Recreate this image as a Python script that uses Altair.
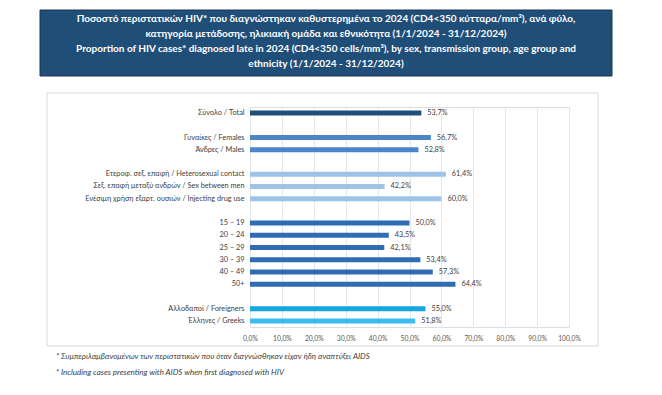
import altair as alt
import pandas as pd

categories = [
    "Σύνολο / Total", " ",
    "Γυναίκες / Females", "Άνδρες / Males", "  ",
    "Ετεροφ. σεξ. επαφή / Heterosexual contact",
    "Σεξ. επαφή μεταξύ ανδρών / Sex between men",
    "Ενέσιμη χρήση εξαρτ. ουσιών / Injecting drug use", "   ",
    "15 – 19", "20 – 24", "25 – 29", "30 – 39", "40 – 49", "50+", "    ",
    "Αλλοδαποί / Foreigners", "Έλληνες / Greeks",
]
values = [53.7, None, 56.7, 52.8, None, 61.4, 42.2, 60.0, None,
          50.0, 43.5, 42.1, 53.4, 57.3, 64.4, None, 55.0, 51.8]
colors = ["#1F4E79", None, "#4A86C8", "#4A86C8", None, "#9DC3E6", "#9DC3E6", "#9DC3E6", None,
          "#2E6DB4", "#2E6DB4", "#2E6DB4", "#2E6DB4", "#2E6DB4", "#2E6DB4", None, "#14A5E3", "#3CBCEE"]

title_lines = [
    "Ποσοστό περιστατικών HIV* που διαγνώστηκαν καθυστερημένα το 2024 (CD4<350 κύτταρα/mm³), ανά φύλο,",
    "κατηγορία μετάδοσης, ηλικιακή ομάδα και εθνικότητα (1/1/2024 - 31/12/2024)",
    "Proportion of HIV cases* diagnosed late in 2024 (CD4<350 cells/mm³), by sex, transmission group, age group and",
    "ethnicity (1/1/2024 - 31/12/2024)",
]
footnotes = [
    "* Συμπεριλαμβανομένων των περιστατικών που όταν διαγνώσθηκαν είχαν ήδη αναπτύξει AIDS",
    "* Including cases presenting with AIDS when first diagnosed with HIV",
]

df = pd.DataFrame({"cat": categories, "val": values, "col": colors})
df = df.dropna()
df["lab"] = df["val"].map(lambda v: f"{v:.1f}".replace(".", ",") + "%")

W, H = 319, 220
FONT = "Lato"

y_enc = alt.Y("cat:N", sort=categories, scale=alt.Scale(domain=categories, paddingInner=0.5, paddingOuter=0.25),
              axis=alt.Axis(title=None, domain=False, ticks=False, labelPadding=6, labelFontSize=7.3,
                            labelColor="#404040", labelFont=FONT, labelLimit=300))
x_enc = alt.X("val:Q", scale=alt.Scale(domain=[0, 100], nice=False),
              axis=alt.Axis(title=None, values=list(range(0, 101, 10)), domain=False, ticks=False,
                            labelExpr="replace(format(datum.value, '.1f'), '.', ',') + '%'",
                            labelOverlap=False, labelFlush=False, labelFontSize=6.8, labelColor="#595959",
                            labelFont=FONT, labelPadding=8, grid=True, gridColor="#E6E6E6", gridWidth=1))

one = pd.DataFrame({"a": [0]})

frame = alt.Chart(one).mark_rect(fill="white", fillOpacity=0, stroke="#D9D9D9", strokeWidth=1).encode(
    x=alt.value(47 - 250), x2=alt.value(598 - 250), y=alt.value(93 - 107), y2=alt.value(346 - 107))

tbox = alt.Chart(one).mark_rect(fill="#1F4E79", stroke="#1A3550", strokeWidth=1).encode(
    x=alt.value(40 - 250), x2=alt.value(612 - 250), y=alt.value(10 - 107), y2=alt.value(76 - 107))

tdf = pd.DataFrame({"t": title_lines, "i": [0, 1, 2, 3]})
ttext = alt.Chart(tdf).mark_text(color="white", fontWeight="bold", fontSize=10, font=FONT,
                                 align="center", baseline="middle").encode(
    x=alt.value(326 - 250),
    y=alt.Y("i:Q", axis=None, scale=alt.Scale(domain=[0, 3], range=[19 - 107, 64 - 107], nice=False, zero=False)),
    text="t:N")

fdf = pd.DataFrame({"t": footnotes, "i": [0, 1]})
ftext = alt.Chart(fdf).mark_text(fill="#404040", fontStyle="italic", fontSize=8, font=FONT,
                                 align="left", baseline="middle").encode(
    x=alt.value(56 - 250),
    y=alt.Y("i:Q", axis=None, scale=alt.Scale(domain=[0, 1], range=[357 - 107, 373 - 107], nice=False, zero=False)),
    text="t:N")

bars = alt.Chart(df).mark_bar(size=5).encode(
    y=y_enc, x=x_enc, color=alt.Color("col:N", scale=None))
labels = alt.Chart(df).mark_text(align="left", baseline="middle", dx=6, fontSize=7.3, font=FONT,
                                 color="#404040").encode(
    y=y_enc, x=x_enc, text="lab:N")

main = alt.layer(bars, labels)

chart = alt.layer(frame, main, tbox, ttext, ftext).resolve_scale(y="independent").properties(
    width=W, height=H,
    autosize=alt.AutoSizeParams(type="none"),
    padding={"left": 242, "top": 99, "right": 85, "bottom": 60},
).configure_view(stroke=None).configure(background="white").configure_axisX(labelOverlap=False)

chart.save("out.html", embed_options={"renderer": "svg", "actions": False})
